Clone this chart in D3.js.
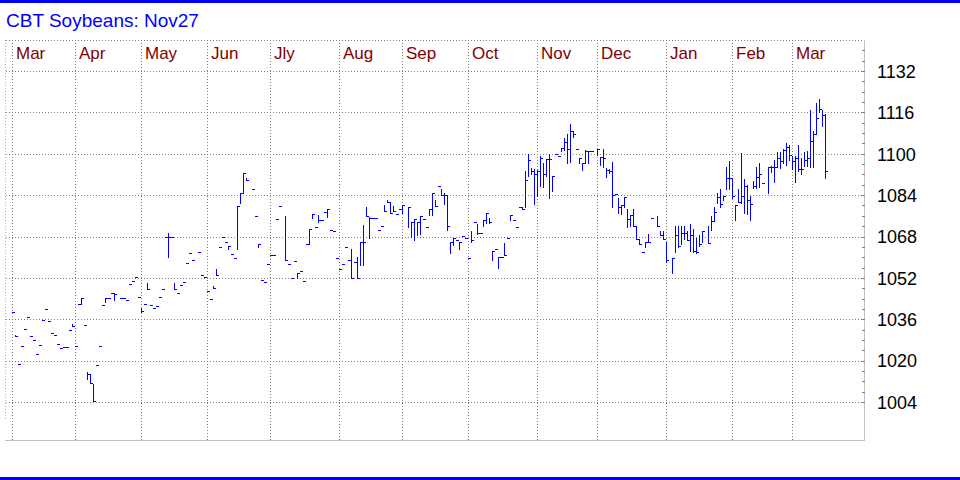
<!DOCTYPE html>
<html>
<head>
<meta charset="utf-8">
<script src="https://cdn.jsdelivr.net/npm/d3@7"></script>
<style>
  body { margin: 0; background: #fff; }
  svg { display: block; font-family: Arial, "Liberation Sans", sans-serif; }
</style>
</head>
<body>
<div id="chart"></div>
<script>
// daily settlement / close, one entry per trading day (null = no bar)
var closes = [
  1039, 1029.5, 1018.75, 1025.5, 1032.25, 1037, 1029.5, 1028, 1022.5, 1026,
  1035.75, 1040, 1035.25, 1030.75, 1030, 1026.5, 1025, 1025.25, 1025.25, 1031.75,
  1033.5, 1025.75, 1042, 1044.25, 1033.75, 1015, 1011.25, 1004.5, 1018.25, 1025.75,
  1041.5, 1044.25, 1044.25, 1046.25, 1045.75, null, 1044.25, 1044.25, 1043.5, 1049.75,
  1050.75, 1052.5, 1044.75, 1039.25, 1042, 1047.75, 1041.5, 1040.25, 1041, 1044.5,
  1047.75, 1067.75, 1067.75, 1067.75, 1047.75, 1046.25, 1049.25, 1050.5, 1057.75, 1061.5,
  1059, null, 1062, 1053, 1052.25, 1047, 1043.75, 1048, 1053, 1064,
  1067.75, 1066, 1064.25, 1061.25, 1059.75, 1079.75, 1084.75, 1092.5, 1089.75, null,
  1086.5, 1076, 1065, 1051.25, 1050.5, 1057.5, 1060.75, 1060.75, 1074.75, 1079.75,
  null, 1059, 1057.25, 1052, 1058.5, 1054, 1054.75, 1050.75, 1065, 1071,
  1076.75, 1071.75, 1074.5, 1074.5, 1077.5, 1078.5, 1070.5, 1070, 1059.75, 1055.5,
  1057.25, 1064, 1059, 1052, 1058, 1052, 1066, 1066, 1075.75, 1075,
  1075, 1075, 1070.5, 1072.25, 1077.75, 1081.25, 1077.25, 1078, 1076.75, 1078.5,
  1080, null, 1079.5, 1073.5, 1074.75, 1073.75, 1076, 1074.75, 1071.75, 1078.5,
  1084.75, 1079.75, 1087.5, 1084.25, 1084.25, 1072, 1066, 1067.5, 1066.75, 1066,
  1068.25, 1067.5, 1059.75, 1066.5, 1073.75, 1069.25, 1069.25, 1074.25, 1077, 1073.5,
  1062.25, 1063, 1060.25, 1060.25, 1060.75, 1067.5, 1076.5, 1074.25, 1071.75, 1079.5,
  1078.5, 1090, 1097.75, 1093.5, 1092, 1093.25, 1098.25, 1092.25, 1098, 1098,
  1091.25, 1100, 1099.25, 1102.25, 1104.75, 1101.75, 1108.75, 1107.5, 1101.75, 1098.25,
  1096.25, 1101.25, 1101.25, 1101.25, null, 1101.75, 1098.75, 1098.25, 1093.75, 1093.5,
  1084, 1084.5, 1079.5, 1080, 1083.25, 1074.75, 1076.5, 1072.25, 1067, 1065.25,
  1062, 1066, 1066, 1075.25, null, 1072.25, 1068.5, 1067, 1058.75, null,
  1059.75, 1068.75, 1064.5, 1069.25, 1069.25, 1066.75, 1068.75, 1062.25, 1062, 1065.25,
  1070.25, null, 1065.5, 1074, 1077.5, 1083.25, 1080.75, 1083.5, 1090.75, 1090.75,
  1083.5, 1080.25, 1081.5, 1083.75, 1087.5, 1082, 1080.75, 1087.5, 1091, 1092,
  1088.75, null, 1095, 1095, 1095, 1098.5, 1097.25, 1101.5, 1102.75, 1099.5,
  1097.25, 1098.5, 1094.25, 1094.25, 1097.5, 1098.5, 1105, 1107.5, 1114, 1117.5,
  1115, 1093.25
];

// daily high (null = same as close)
var highs = [
  null, 1030, null, null, null, null, null, null, null, null,
  null, null, null, null, null, null, null, null, null, null,
  1034.25, null, null, 1044.25, null, 1015.5, 1014.75, 1011, null, null,
  null, 1044.25, null, null, 1046.25, null, null, null, null, null,
  null, null, null, 1040.25, null, 1050, null, null, null, null,
  null, null, 1069.5, null, 1050, null, null, null, null, null,
  null, null, null, null, null, null, null, 1049, 1055.25, null,
  null, null, 1064.25, null, null, 1079.75, 1084.75, 1092.5, 1090.5, null,
  null, null, 1065, null, null, null, null, null, null, null,
  null, 1076, null, null, null, 1054, null, null, null, 1071,
  1076.75, null, 1076.5, null, null, 1078.5, null, null, null, null,
  null, null, null, 1063, null, 1060, 1066, 1072.5, 1079.5, 1075.5,
  null, null, null, null, 1080, 1082, 1081.25, 1079.75, null, null,
  1080, null, 1079.5, 1073.5, 1074.75, 1073.75, 1076, null, null, 1078.5,
  1084.75, 1082, null, 1086.5, 1084.75, 1084.25, 1066, 1067.5, null, 1066,
  null, null, null, 1070, null, 1073, null, 1074.5, 1077, 1075,
  1062.25, null, 1060.25, null, 1065.5, null, 1076.5, null, null, null,
  1079.5, 1093.5, 1100, 1094.5, 1094, 1093.75, 1099, 1096.5, 1098, 1100,
  1091.25, null, null, 1102.25, 1106, 1107.5, 1111.5, 1108.75, null, 1098.25,
  1096.25, 1101.5, 1101.25, null, null, 1101.75, 1098.75, 1101.75, 1094.5, 1094.25,
  1096.75, null, 1083, 1080, 1083.25, 1078.5, 1076.5, 1078.5, 1072.25, 1067,
  null, 1066, 1069, null, null, 1076, 1070.25, 1070, 1066, null,
  1059.75, 1072, 1072.25, 1072, 1072, 1070.25, 1073, 1071, 1067.5, 1068.75,
  1070.25, null, 1072.25, 1075.75, 1079.5, 1085, 1086.5, 1083.5, 1095, 1097.25,
  1090.75, 1080.25, 1086.5, 1100.25, 1090.25, 1087.75, 1083.5, 1089.5, 1095, 1096.25,
  null, null, 1095, 1095.25, 1097.75, 1100.5, 1100.5, 1102, 1104, 1103.25,
  1099, 1099, 1103.25, 1098.5, 1100.5, 1101, 1117, 1109, 1119.5, 1121.25,
  1117, 1115.5
];

// daily low (null = same as close)
var lows = [
  null, 1029.5, null, null, null, null, null, null, null, null,
  null, null, null, null, null, null, null, null, null, null,
  1033.5, null, null, 1042, null, 1013, 1011.25, 1004.5, null, null,
  null, 1042.75, null, null, 1043.5, null, null, null, null, null,
  null, null, null, 1039, null, 1047.75, null, null, null, null,
  null, null, 1060, null, 1047.75, null, null, null, null, null,
  null, null, null, null, null, null, null, 1048, 1053, null,
  null, null, 1063, null, null, 1063, 1081, 1085, 1089.75, null,
  null, null, 1064, null, null, null, null, null, null, null,
  null, 1059, null, null, null, 1052, null, null, null, 1065,
  1075, null, 1073.5, null, null, 1075.5, null, null, null, null,
  null, null, null, 1052, null, 1052, 1057, 1057, 1075.75, 1067.5,
  null, null, null, null, 1077.75, 1081.25, 1077.25, 1078, null, null,
  1077.25, null, 1071.5, 1068, 1066.75, 1068.75, 1069, null, null, 1076.25,
  1076.25, 1079.75, null, 1084.25, 1080.5, 1070.5, 1061.5, 1064.75, null, 1063,
  null, null, null, 1065.75, null, 1069, null, 1072, 1073.25, 1073.25,
  1058.75, null, 1055.75, null, 1060.75, null, 1074.25, null, null, null,
  1078.5, 1079.5, 1091.5, 1092, 1080.5, 1083.5, 1087.5, 1087, 1091.25, 1083,
  1085.5, null, null, 1101, 1101.5, 1096.5, 1097, 1106.5, null, 1096.5,
  1093.75, 1096.25, 1096.5, null, null, 1099.5, 1095.75, 1095, 1091, 1092.75,
  1079.5, null, 1077, 1076.75, 1079.5, 1071.75, 1072, 1072.25, 1067, 1065.25,
  null, 1064, 1066, null, null, 1072.25, 1068.5, 1067, 1058.25, null,
  1053.75, 1062, 1064, 1065, 1067, 1066.5, 1062.25, 1062, 1061.75, 1064.5,
  1065.75, null, 1065.5, 1070.5, 1074, 1081, 1079.5, 1082.25, 1086.5, 1086.5,
  1083, 1074.25, 1081.5, 1081, 1077, 1076.75, 1074.25, 1086.75, 1086.75, 1087.25,
  null, null, 1085, 1093, 1089, 1095, 1094.5, 1096.5, 1095.5, 1097.75,
  1094, 1089, 1093.25, 1092, 1095.25, 1095.25, 1095, 1095, 1107.5, 1116,
  1110.75, 1090.75
];

// first trading day of each month and its label
var monthStarts = [0, 21, 43, 65, 86, 109, 130, 152, 175, 195, 218, 240, 260];
var monthLabels = ["Mar", "Apr", "May", "Jun", "Jly", "Aug", "Sep", "Oct", "Nov", "Dec", "Jan", "Feb", "Mar"];

// price axis
var priceTicks = [1004, 1020, 1036, 1052, 1068, 1084, 1100, 1116, 1132];
var minorTicks = d3.range(1004, 1144, 4);

var W = 960, H = 480;
var plot = {left: 6, right: 864, top: 40, bottom: 440};

var svg = d3.select("#chart").append("svg")
    .attr("width", W)
    .attr("height", H);

// x: one slot of 3px per trading day
var x = d3.scaleLinear()
    .domain([0, closes.length - 1])
    .range([12, 12 + 3 * (closes.length - 1)]);

var y = d3.scaleLinear()
    .domain([989.5, 1144.2])
    .range([plot.bottom, plot.top]);

// blue rules top and bottom
svg.append("rect").attr("x", 0).attr("y", 0).attr("width", W).attr("height", 3).attr("fill", "#0000ff");
svg.append("rect").attr("x", 0).attr("y", 477).attr("width", W).attr("height", 3).attr("fill", "#0000ff");

svg.append("text")
  .attr("x", 6)
  .attr("y", 27)
  .attr("fill", "#0000ff")
  .style("font-size", "19px")
  .text("CBT Soybeans: Nov27");

var grid = svg.append("g")
    .attr("stroke", "#808080")
    .attr("stroke-dasharray", "1,2")
    .attr("fill", "none");

// horizontal grid
grid.selectAll(".hg")
  .data(priceTicks)
  .enter().append("line")
  .attr("x1", plot.left)
  .attr("x2", plot.right)
  .attr("y1", function(d) { return Math.floor(y(d)) + 0.5; })
  .attr("y2", function(d) { return Math.floor(y(d)) + 0.5; });

// vertical month grid
grid.selectAll(".vg")
  .data(monthStarts)
  .enter().append("line")
  .attr("x1", function(d) { return x(d) + 0.5; })
  .attr("x2", function(d) { return x(d) + 0.5; })
  .attr("y1", plot.top)
  .attr("y2", plot.bottom);

// top border (dotted) and left edge
grid.append("line")
  .attr("x1", plot.left).attr("x2", plot.right)
  .attr("y1", plot.top + 0.5).attr("y2", plot.top + 0.5);
grid.append("line")
  .attr("stroke", "#b0b0b0")
  .attr("x1", plot.left - 0.5).attr("x2", plot.left - 0.5)
  .attr("y1", plot.top).attr("y2", 420);

// right and bottom solid borders
svg.append("line")
  .attr("x1", plot.right + 0.5).attr("x2", plot.right + 0.5)
  .attr("y1", plot.top).attr("y2", plot.bottom + 1)
  .attr("stroke", "#c0c0c0");
svg.append("line")
  .attr("x1", plot.left - 1).attr("x2", plot.right + 1)
  .attr("y1", plot.bottom + 0.5).attr("y2", plot.bottom + 0.5)
  .attr("stroke", "#c0c0c0");

// month labels
svg.selectAll(".month")
  .data(monthStarts)
  .enter().append("text")
  .attr("class", "month")
  .attr("x", function(d) { return x(d) + 4; })
  .attr("y", 59)
  .attr("fill", "#800000")
  .style("font-size", "17px")
  .text(function(d, i) { return monthLabels[i]; });

// minor ticks on the right edge
var minorAxis = svg.append("g")
    .attr("transform", "translate(" + (plot.right + 0.5) + ",-0.5)")
    .attr("shape-rendering", "crispEdges")
    .call(d3.axisLeft(y).tickValues(minorTicks).tickSize(3).tickFormat(""));
minorAxis.select(".domain").remove();
minorAxis.selectAll("line").attr("stroke", "#808080");

// price labels
var priceAxis = svg.append("g")
    .attr("transform", "translate(" + plot.right + ",0)")
    .call(d3.axisRight(y).tickValues(priceTicks).tickSize(0).tickPadding(13).tickFormat(d3.format("d")));
priceAxis.select(".domain").remove();
priceAxis.selectAll("text")
  .attr("fill", "#000")
  .style("font-size", "18px")
  .style("font-family", "Arial, 'Liberation Sans', sans-serif");

// bars: vertical high-low + close tick to the right
var bars = d3.range(closes.length)
  .filter(function(i) { return closes[i] != null; })
  .map(function(i) {
    return {
      i: i,
      h: highs[i] == null ? closes[i] : highs[i],
      l: lows[i] == null ? closes[i] : lows[i],
      c: closes[i]
    };
  });

var barG = svg.append("g")
    .attr("fill", "#0000ff")
    .attr("shape-rendering", "crispEdges");

barG.selectAll(".hl")
  .data(bars)
  .enter().append("rect")
  .attr("x", function(d) { return x(d.i); })
  .attr("y", function(d) { return Math.floor(y(d.h)); })
  .attr("width", 1)
  .attr("height", function(d) { return Math.floor(y(d.l)) - Math.floor(y(d.h)) + 1; });

barG.selectAll(".cl")
  .data(bars)
  .enter().append("rect")
  .attr("x", function(d) { return x(d.i); })
  .attr("y", function(d) { return Math.floor(y(d.c)); })
  .attr("width", 3)
  .attr("height", 1);
</script>
</body>
</html>
